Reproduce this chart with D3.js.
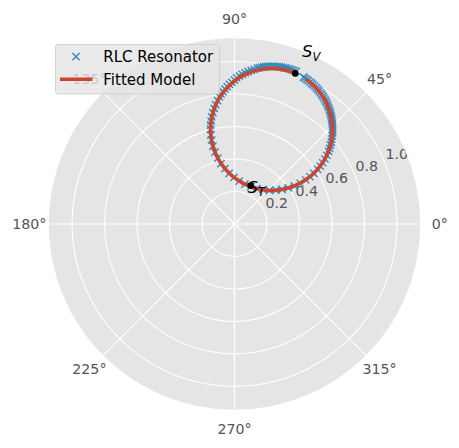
<!DOCTYPE html>
<html>
<head>
<meta charset="utf-8">
<script src="https://cdn.jsdelivr.net/npm/d3@7"></script>
<style>
  body { margin: 0; background: #fff; }
  text { font-family: "DejaVu Sans", sans-serif; }
</style>
</head>
<body>
<script>
// measured resonator response (real / imaginary parts)
var reData = [0.380, 0.367, 0.354, 0.341, 0.328, 0.315, 0.302, 0.289, 0.275, 0.262, 0.248, 0.235, 0.221, 0.208, 0.194, 0.181, 0.167, 0.154, 0.141,
  0.122, 0.103, 0.084, 0.066, 0.048, 0.030, 0.013,
  0.000, -0.016, -0.031, -0.045, -0.058, -0.071, -0.083, -0.093,
  -0.104, -0.116, -0.125, -0.133, -0.140, -0.144, -0.147,
  -0.147, -0.146, -0.141, -0.133, -0.120, -0.103, -0.083, -0.059, -0.033, -0.003, 0.029, 0.064, 0.100,
  0.137, 0.176, 0.215, 0.254, 0.293, 0.331, 0.369, 0.404, 0.438, 0.464, 0.489, 0.511,
  0.528, 0.543, 0.557, 0.569, 0.579, 0.586, 0.591, 0.596, 0.599, 0.602, 0.604, 0.604,
  0.604, 0.604, 0.603, 0.601, 0.599, 0.597, 0.594, 0.591, 0.588, 0.584, 0.579, 0.574, 0.569, 0.563,
  0.557, 0.550, 0.543, 0.536, 0.528, 0.520, 0.512, 0.503, 0.494, 0.484, 0.475, 0.465, 0.454, 0.444, 0.433, 0.425];
var imData = [0.939, 0.944, 0.949, 0.953, 0.957, 0.960, 0.963, 0.965, 0.967, 0.969, 0.970, 0.970, 0.970, 0.970, 0.969, 0.967, 0.965, 0.963, 0.960,
  0.951, 0.945, 0.938, 0.930, 0.921, 0.911, 0.900,
  0.885, 0.872, 0.859, 0.845, 0.831, 0.815, 0.799, 0.783,
  0.759, 0.735, 0.711, 0.686, 0.660, 0.634, 0.608,
  0.582, 0.549, 0.517, 0.479, 0.442, 0.406, 0.372, 0.341, 0.312, 0.287, 0.264, 0.245, 0.230,
  0.218, 0.211, 0.207, 0.208, 0.213, 0.222, 0.234, 0.251, 0.271, 0.291, 0.312, 0.336,
  0.356, 0.377, 0.400, 0.423, 0.447, 0.466, 0.485, 0.504, 0.523, 0.543, 0.562, 0.575,
  0.589, 0.602, 0.615, 0.628, 0.641, 0.654, 0.667, 0.679, 0.692, 0.704, 0.717, 0.729, 0.741, 0.753,
  0.764, 0.776, 0.787, 0.798, 0.808, 0.819, 0.829, 0.838, 0.848, 0.857, 0.866, 0.874, 0.882, 0.890, 0.897, 0.904];

// fitted model
var reFit = [0.375, 0.325, 0.261, 0.195, 0.131, 0.070, 0.013, -0.037, -0.079, -0.112, -0.134, -0.146,
  -0.146, -0.134, -0.112, -0.079, -0.037, 0.013, 0.070, 0.131, 0.195, 0.261, 0.325, 0.386,
  0.443, 0.493, 0.535, 0.568, 0.590, 0.602, 0.602, 0.590, 0.568, 0.535, 0.493, 0.438];
var imFit = [0.927, 0.944, 0.956, 0.956, 0.944, 0.922, 0.889, 0.847, 0.797, 0.741, 0.679, 0.615,
  0.549, 0.485, 0.423, 0.367, 0.317, 0.275, 0.242, 0.220, 0.208, 0.208, 0.220, 0.242,
  0.275, 0.317, 0.367, 0.423, 0.485, 0.549, 0.615, 0.679, 0.741, 0.797, 0.847, 0.893];

// marked points
var pointNames = ["V", "T"];
var pointRe = [0.374, 0.100];
var pointIm = [0.927, 0.236];

var angleTicks = [0, 45, 90, 135, 180, 225, 270, 315];
var radialTicks = [0.2, 0.4, 0.6, 0.8, 1.0];
var radialLabels = ["0.2", "0.4", "0.6", "0.8", "1.0"];

var width = 459, height = 448;
var cx = 234.5, cy = 224, R = 185.7;
var rMax = 1.143;

var blue = "#348ABD", red = "#CC4530";

var svg = d3.select("body").append("svg")
  .attr("width", width)
  .attr("height", height);

var r = d3.scaleLinear().domain([0, rMax]).range([0, R]);
// math angle in degrees -> d3 radial angle
var ang = d3.scaleLinear().domain([0, 360]).range([Math.PI / 2, Math.PI / 2 - 2 * Math.PI]);

function toAngle(re, im) { return Math.PI / 2 - Math.atan2(im, re); }

var g = svg.append("g").attr("transform", "translate(" + cx + "," + cy + ")");

g.append("clipPath").attr("id", "disk")
  .append("circle").attr("r", R);

g.append("circle").attr("r", R).attr("fill", "#E5E5E5");

// grid
g.selectAll(".rgrid").data(radialTicks).enter().append("circle")
  .attr("r", function(d) { return r(d); })
  .attr("fill", "none").attr("stroke", "#fff").attr("stroke-width", 1.1);

g.selectAll(".agrid").data(angleTicks).enter().append("line")
  .attr("x1", 0).attr("y1", 0)
  .attr("x2", function(d) { return d3.pointRadial(ang(d), R)[0]; })
  .attr("y2", function(d) { return d3.pointRadial(ang(d), R)[1]; })
  .attr("stroke", "#fff").attr("stroke-width", 1.1);

// angle labels
g.selectAll(".alab").data(angleTicks).enter().append("text")
  .attr("x", function(d) { return d3.pointRadial(ang(d), R + 19.5)[0]; })
  .attr("y", function(d) { return d3.pointRadial(ang(d), R + 19.5)[1]; })
  .attr("text-anchor", "middle")
  .attr("dominant-baseline", "central")
  .attr("font-size", 14.2)
  .attr("fill", "#555555")
  .text(function(d) { return d + "°"; });

// radial labels
g.append("g").attr("clip-path", "url(#disk)")
  .selectAll("text").data(radialTicks).enter().append("text")
  .attr("x", function(d) { return d3.pointRadial(ang(22.5), r(d))[0] + 12.2; })
  .attr("y", function(d) { return d3.pointRadial(ang(22.5), r(d))[1] - 8.3; })
  .attr("text-anchor", "middle")
  .attr("dominant-baseline", "central")
  .attr("font-size", 14.2)
  .attr("fill", "#555555")
  .text(function(d, i) { return radialLabels[i]; });

// data markers
var s = 3.6;
g.selectAll(".pt").data(reData).enter().append("path")
  .attr("transform", function(d, i) {
    var p = d3.pointRadial(toAngle(d, imData[i]), r(Math.hypot(d, imData[i])));
    return "translate(" + p[0] + "," + p[1] + ")";
  })
  .attr("d", "M" + (-s) + "," + (-s) + "L" + s + "," + s + "M" + (-s) + "," + s + "L" + s + "," + (-s))
  .attr("stroke", blue).attr("stroke-width", 1.4).attr("fill", "none");

// fitted line
var fit = reFit.map(function(d, i) { return [d, imFit[i]]; });
var line = d3.lineRadial()
  .angle(function(d) { return toAngle(d[0], d[1]); })
  .radius(function(d) { return r(Math.hypot(d[0], d[1])); })
  .curve(d3.curveCatmullRom);
g.append("path").datum(fit)
  .attr("d", line)
  .attr("fill", "none").attr("stroke", red).attr("stroke-width", 3.6);

// S_V, S_T dots
g.selectAll(".dot").data(pointRe).enter().append("circle")
  .attr("cx", function(d, i) { return d3.pointRadial(toAngle(d, pointIm[i]), r(Math.hypot(d, pointIm[i])))[0]; })
  .attr("cy", function(d, i) { return d3.pointRadial(toAngle(d, pointIm[i]), r(Math.hypot(d, pointIm[i])))[1]; })
  .attr("r", 3.3).attr("fill", "#000");

// annotations
var annX = [302 - cx, 247.5 - cx], annY = [57 - cy, 192.5 - cy];
pointNames.forEach(function(n, i) {
  var t = g.append("text").attr("x", annX[i]).attr("y", annY[i])
    .attr("font-size", 16.5).attr("fill", "#000");
  t.append("tspan").attr("font-style", "italic").text("S");
  t.append("tspan").attr("font-style", "italic").attr("font-size", 11.5).attr("dy", 3.5).text(n);
});

// legend
var lg = svg.append("g");
lg.append("rect").attr("x", 55.5).attr("y", 44.5).attr("width", 164).attr("height", 49.5)
  .attr("rx", 2.5)
  .attr("fill", "#E5E5E5").attr("fill-opacity", 0.8)
  .attr("stroke", "#CCCCCC").attr("stroke-opacity", 0.8).attr("stroke-width", 1);
lg.append("path")
  .attr("transform", "translate(76,56.7)")
  .attr("d", "M" + (-s) + "," + (-s) + "L" + s + "," + s + "M" + (-s) + "," + s + "L" + s + "," + (-s))
  .attr("stroke", blue).attr("stroke-width", 1.4).attr("fill", "none");
lg.append("line").attr("x1", 60).attr("x2", 92.5).attr("y1", 79.3).attr("y2", 79.3)
  .attr("stroke", red).attr("stroke-width", 3.6);
lg.append("text").attr("x", 103.3).attr("y", 62.3).attr("font-size", 15).attr("fill", "#000").text("RLC Resonator");
lg.append("text").attr("x", 103.3).attr("y", 85).attr("font-size", 15).attr("fill", "#000").text("Fitted Model");
</script>
</body>
</html>
